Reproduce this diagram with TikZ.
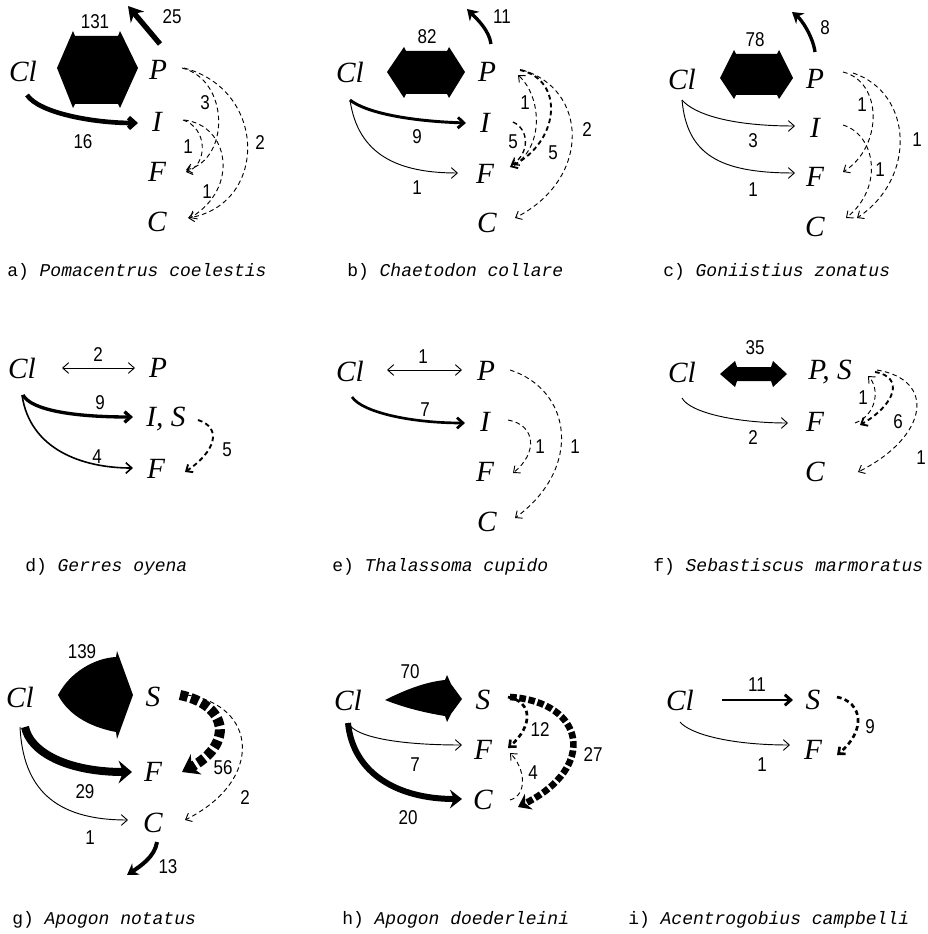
\documentclass[tikz,border=0pt]{standalone}
\usepackage{fontspec}
\setmainfont{Liberation Serif}
\newfontfamily\cifras[FakeStretch=0.85]{Liberation Sans}
\newfontfamily\maquina{Liberation Mono}
\usetikzlibrary{arrows.meta,calc}

\tikzset{
  comp/.style={font=\fontsize{22}{22}\selectfont\itshape,inner sep=0pt},
  num/.style={font=\fontsize{15}{15}\selectfont\cifras,inner sep=0pt},
  pie/.style={font=\fontsize{13.5}{14}\selectfont\maquina,inner sep=0pt,anchor=west},
  flujo/.style={line width=#1,-{Straight Barb[length=4.5pt,width=8pt]}},
  flujo/.default=0.7pt,
  doble/.style={line width=0.7pt,{Straight Barb[length=4.5pt,width=8pt]}-{Straight Barb[length=4.5pt,width=8pt]}},
  grueso/.style={line width=#1,-{Stealth[length=9pt,width=14pt]}},
  salida/.style={line width=#1,-{Stealth[length=8pt,width=10pt]}},
  presa/.style={line width=#1,dash pattern=on 3.5pt off 2.5pt,-{Straight Barb[length=4pt,width=7pt]}},
  presa/.default=0.7pt,
  masa/.style={line width=#1,dash pattern=on 6pt off 2.5pt,-{Stealth[length=12pt,width=17pt]}}
}

\begin{document}
\begin{tikzpicture}[x=0.75pt,y=-0.75pt]
  \useasboundingbox (0,0) rectangle (927,934);

  \node[comp] (aCl) at (23,71) {Cl};
  \node[comp] (aP) at (158,70) {P};
  \node[comp] (aI) at (157,122) {I};
  \node[comp] (aF) at (157,172) {F};
  \node[comp] (aC) at (157,222) {C};
  \fill (57,68) -- (73,31) -- (75,36) -- (118,36) -- (120,31) -- (138,68) -- (120,108) -- (118,104) -- (75,104) -- (73,108) -- cycle;
  \node[num] (a131) at (95,22) {131};
  \coordinate (aSal) at (128,6);
  \draw[salida=4pt,-{Stealth[length=11pt,width=13pt]}] ($(aP)+(2,-26)$) -- (aSal);
  \node[num] (a25) at (172,17) {25};
  \draw[flujo=3.5pt] ($(aCl)+(4,24)$) .. controls +(12,18) and +(-45,0) .. ($(aI)+(-19,1)$);
  \node[num] (a16) at (83,142) {16};
  \draw[presa] ($(aP)+(24,-2)$) .. controls +(48,12) and +(44,-10) .. ($(aF)+(29,-2)$);
  \draw[presa] ($(aP)+(26,-2)$) .. controls +(84,22) and +(80,-13) .. ($(aC)+(31,-4)$);
  \draw[presa] ($(aI)+(26,-2)$) .. controls +(25,8) and +(22,-7) .. ($(aF)+(29,0)$);
  \draw[presa] ($(aI)+(27,-2)$) .. controls +(45,5) and +(50,-30) .. ($(aC)+(33,-4)$);
  \node[num] (a3) at (205,103) {3};
  \node[num] (a2) at (260,143) {2};
  \node[num] (a1) at (188,147) {1};
  \node[num] (a1b) at (207,192) {1};
  \node[pie] (atit) at (7,272) {a) {\itshape Pomacentrus coelestis}};

  \node[comp] (bCl) at (350,72) {Cl};
  \node[comp] (bP) at (487,72) {P};
  \node[comp] (bI) at (485,123) {I};
  \node[comp] (bF) at (485,174) {F};
  \node[comp] (bC) at (487,223) {C};
  \fill (387,72) -- (404,47) -- (406,51) -- (447,51) -- (449,47) -- (465,72) -- (449,98) -- (447,94) -- (406,94) -- (404,98) -- cycle;
  \node[num] (b82) at (427,37) {82};
  \coordinate (bSal) at (467,9);
  \draw[salida=2.5pt] ($(bP)+(4,-28)$) .. controls +(-2,-14) and +(10,10) .. (bSal);
  \node[num] (b11) at (502,17) {11};
  \draw[flujo=2.2pt] ($(bCl)+(0,28)$) .. controls +(15,12) and +(-60,-2) .. ($(bI)+(-19,0)$);
  \node[num] (b9) at (417,137) {9};
  \draw[flujo] ($(bCl)+(0,28)$) .. controls +(8,55) and +(-60,0) .. ($(bF)+(-27,-1)$);
  \node[num] (b1) at (417,188) {1};
  \draw[presa] ($(bF)+(29,-9)$) .. controls +(30,-18) and +(24,22) .. ($(bP)+(31,3)$);
  \draw[presa=1.4pt] ($(bP)+(33,-2)$) .. controls +(45,10) and +(50,-25) .. ($(bF)+(25,-7)$);
  \draw[presa=1pt] ($(bI)+(28,-1)$) .. controls +(17,8) and +(17,-12) .. ($(bF)+(27,-9)$);
  \draw[presa] ($(bP)+(35,-2)$) .. controls +(65,18) and +(78,-40) .. ($(bC)+(28,-5)$);
  \node[num] (b1p) at (525,103) {1};
  \node[num] (b5) at (553,153) {5};
  \node[num] (b5b) at (513,142) {5};
  \node[num] (b2) at (587,130) {2};
  \node[pie] (btit) at (347,272) {b) {\itshape Chaetodon collare}};

  \node[comp] (cCl) at (682,79) {Cl};
  \node[comp] (cP) at (815,79) {P};
  \node[comp] (cI) at (815,128) {I};
  \node[comp] (cF) at (815,177) {F};
  \node[comp] (cC) at (815,227) {C};
  \fill (720,78) -- (734,50) -- (736,54) -- (777,54) -- (779,50) -- (793,78) -- (779,99) -- (777,95) -- (736,95) -- (734,99) -- cycle;
  \node[num] (c78) at (755,40) {78};
  \coordinate (cSal) at (792,12);
  \draw[salida=2.5pt] ($(cP)+(0,-27)$) .. controls +(-2,-15) and +(10,8) .. (cSal);
  \node[num] (c8) at (825,28) {8};
  \draw[flujo] ($(cCl)+(0,21)$) .. controls +(12,14) and +(-65,0) .. ($(cI)+(-20,-2)$);
  \node[num] (c3) at (753,141) {3};
  \draw[flujo] ($(cCl)+(0,21)$) .. controls +(5,55) and +(-75,0) .. ($(cF)+(-20,-4)$);
  \node[num] (c1) at (753,190) {1};
  \draw[presa] ($(cP)+(28,-7)$) .. controls +(40,10) and +(40,-25) .. ($(cF)+(28,-5)$);
  \draw[presa] ($(cP)+(38,-6)$) .. controls +(60,20) and +(60,-40) .. ($(cC)+(42,-9)$);
  \draw[presa] ($(cI)+(28,-3)$) .. controls +(33,10) and +(38,-30) .. ($(cC)+(31,-9)$);
  \node[num] (c1a) at (862,105) {1};
  \node[num] (c1b) at (917,140) {1};
  \node[num] (c1c) at (880,170) {1};
  \node[pie] (ctit) at (663,272) {c) {\itshape Goniistius zonatus}};

  \node[comp] (dCl) at (22,368) {Cl};
  \node[comp] (dP) at (158,368) {P};
  \node[comp] (dIS) at (166,419) {I, S};
  \node[comp] (dF) at (156,469) {F};
  \draw[doble] ($(dCl)+(40,0)$) -- ($(dP)+(-23,0)$);
  \node[num] (d2) at (98,355) {2};
  \draw[flujo=2.5pt] ($(dCl)+(1,27)$) .. controls +(8,15) and +(-60,0) .. ($(dIS)+(-33,-2)$);
  \node[num] (d9) at (100,403) {9};
  \draw[flujo=1.2pt] ($(dCl)+(0,27)$) .. controls +(8,55) and +(-50,0) .. ($(dF)+(-23,-1)$);
  \node[num] (d4) at (97,457) {4};
  \draw[presa=1.4pt] ($(dIS)+(32,1)$) .. controls +(25,8) and +(30,-20) .. ($(dF)+(29,3)$);
  \node[num] (d5) at (227,450) {5};
  \node[pie] (dtit) at (25,567) {d) {\itshape Gerres oyena}};

  \node[comp] (eCl) at (350,371) {Cl};
  \node[comp] (eP) at (486,371) {P};
  \node[comp] (eI) at (485,422) {I};
  \node[comp] (eF) at (485,472) {F};
  \node[comp] (eC) at (487,522) {C};
  \draw[doble] ($(eCl)+(37,-1)$) -- ($(eP)+(-24,-1)$);
  \node[num] (e1) at (423,357) {1};
  \draw[flujo=2pt] ($(eCl)+(2,26)$) .. controls +(10,15) and +(-55,0) .. ($(eI)+(-20,1)$);
  \node[num] (e7) at (425,410) {7};
  \draw[presa] ($(eI)+(23,-2)$) .. controls +(28,5) and +(25,-20) .. ($(eF)+(28,1)$);
  \draw[presa] ($(eP)+(24,-1)$) .. controls +(62,20) and +(68,-50) .. ($(eC)+(28,-4)$);
  \node[num] (e1a) at (540,447) {1};
  \node[num] (e1b) at (575,447) {1};
  \node[pie] (etit) at (332,567) {e) {\itshape Thalassoma cupido}};

  \node[comp] (fCl) at (682,372) {Cl};
  \node[comp] (fPS) at (830,372) {P, S};
  \node[comp] (fF) at (815,422) {F};
  \node[comp] (fC) at (815,472) {C};
  \fill (720,374) -- (735,361) -- (737,367) -- (771,367) -- (773,361) -- (787,374) -- (773,387) -- (771,381) -- (737,381) -- (735,387) -- cycle;
  \node[num] (f35) at (755,348) {35};
  \draw[flujo] ($(fCl)+(0,26)$) .. controls +(8,15) and +(-50,0) .. ($(fF)+(-27,1)$);
  \node[num] (f2) at (753,438) {2};
  \draw[presa] ($(fF)+(40,1)$) .. controls +(22,-8) and +(12,12) .. ($(fPS)+(38,4)$);
  \draw[presa=1.4pt] ($(fPS)+(45,0)$) .. controls +(30,5) and +(35,-20) .. ($(fF)+(45,3)$);
  \draw[presa] ($(fPS)+(47,-2)$) .. controls +(60,10) and +(70,-35) .. ($(fC)+(43,0)$);
  \node[num] (f1) at (863,398) {1};
  \node[num] (f6) at (898,422) {6};
  \node[num] (f1b) at (921,458) {1};
  \node[pie] (ftit) at (653,567) {f) {\itshape Sebastiscus marmoratus}};

  \node[comp] (gCl) at (20,697) {Cl};
  \node[comp] (gS) at (153,697) {S};
  \node[comp] (gF) at (153,772) {F};
  \node[comp] (gC) at (153,823) {C};
  \fill (58,695) .. controls (70,672) and (95,658) .. (116,657) -- (117,651) -- (121,662) -- (133,695) -- (121,728) -- (117,739) -- (116,732) .. controls (95,728) and (70,718) .. (58,695) -- cycle;
  \node[num] (g139) at (82,652) {139};
  \draw[grueso=6pt,-{Stealth[length=10pt,width=17pt]}] ($(gCl)+(5,30)$) .. controls +(5,25) and +(-65,0) .. ($(gF)+(-21,0)$);
  \node[num] (g29) at (85,792) {29};
  \draw[flujo] ($(gCl)+(0,30)$) .. controls +(3,60) and +(-75,0) .. ($(gC)+(-25,-3)$);
  \node[num] (g1) at (90,838) {1};
  \coordinate (gSal) at (127,875);
  \draw[salida=3pt] ($(gC)+(4,19)$) .. controls +(-2,15) and +(12,-8) .. (gSal);
  \node[num] (g13) at (168,867) {13};
  \draw[masa=7.5pt] ($(gS)+(27,-2)$) .. controls +(48,10) and +(52,-28) .. ($(gF)+(29,0)$);
  \node[num] (g56) at (223,768) {56};
  \draw[presa] ($(gS)+(34,-2)$) .. controls +(70,10) and +(80,-40) .. ($(gC)+(32,-3)$);
  \node[num] (g2) at (245,798) {2};
  \node[pie] (gtit) at (12,920) {g) {\itshape Apogon notatus}};

  \node[comp] (hCl) at (348,700) {Cl};
  \node[comp] (hS) at (483,700) {S};
  \node[comp] (hF) at (483,750) {F};
  \node[comp] (hC) at (483,800) {C};
  \fill (385,700) .. controls (405,690) and (425,682) .. (445,680) -- (447,675) -- (451,684) -- (462,699) -- (451,714) -- (447,722) -- (445,716) .. controls (420,712) and (400,706) .. (385,700) -- cycle;
  \node[num] (h70) at (410,672) {70};
  \draw[flujo] ($(hCl)+(0,23)$) .. controls +(8,15) and +(-60,0) .. ($(hF)+(-21,-5)$);
  \node[num] (h7) at (415,765) {7};
  \draw[grueso=4.5pt] ($(hCl)+(0,23)$) .. controls +(5,50) and +(-65,0) .. ($(hC)+(-21,-1)$);
  \node[num] (h20) at (408,818) {20};
  \draw[presa=2pt] ($(hS)+(25,-3)$) .. controls +(25,5) and +(25,-22) .. ($(hF)+(25,-2)$);
  \node[num] (h12) at (540,730) {12};
  \draw[presa] ($(hC)+(27,0)$) .. controls +(18,-5) and +(15,15) .. ($(hF)+(27,3)$);
  \node[num] (h4) at (533,773) {4};
  \draw[masa=5pt,dash pattern=on 5pt off 2pt,-{Stealth[length=9pt,width=13pt]}] ($(hS)+(27,-3)$) .. controls +(75,5) and +(80,-40) .. ($(hC)+(35,7)$);
  \node[num] (h27) at (593,755) {27};
  \node[pie] (htit) at (342,920) {h) {\itshape Apogon doederleini}};

  \node[comp] (iCl) at (680,700) {Cl};
  \node[comp] (iS) at (813,700) {S};
  \node[comp] (iF) at (813,750) {F};
  \draw[flujo=2.2pt] ($(iCl)+(42,0)$) -- ($(iS)+(-20,0)$);
  \node[num] (i11) at (757,685) {11};
  \draw[flujo] ($(iCl)+(0,22)$) .. controls +(10,12) and +(-60,0) .. ($(iF)+(-23,-5)$);
  \node[num] (i1) at (762,765) {1};
  \draw[presa=2pt] ($(iS)+(24,-3)$) .. controls +(25,5) and +(30,-25) .. ($(iF)+(24,5)$);
  \node[num] (i9) at (870,727) {9};
  \node[pie] (itit) at (628,920) {i) {\itshape Acentrogobius campbelli}};
\end{tikzpicture}
\end{document}
